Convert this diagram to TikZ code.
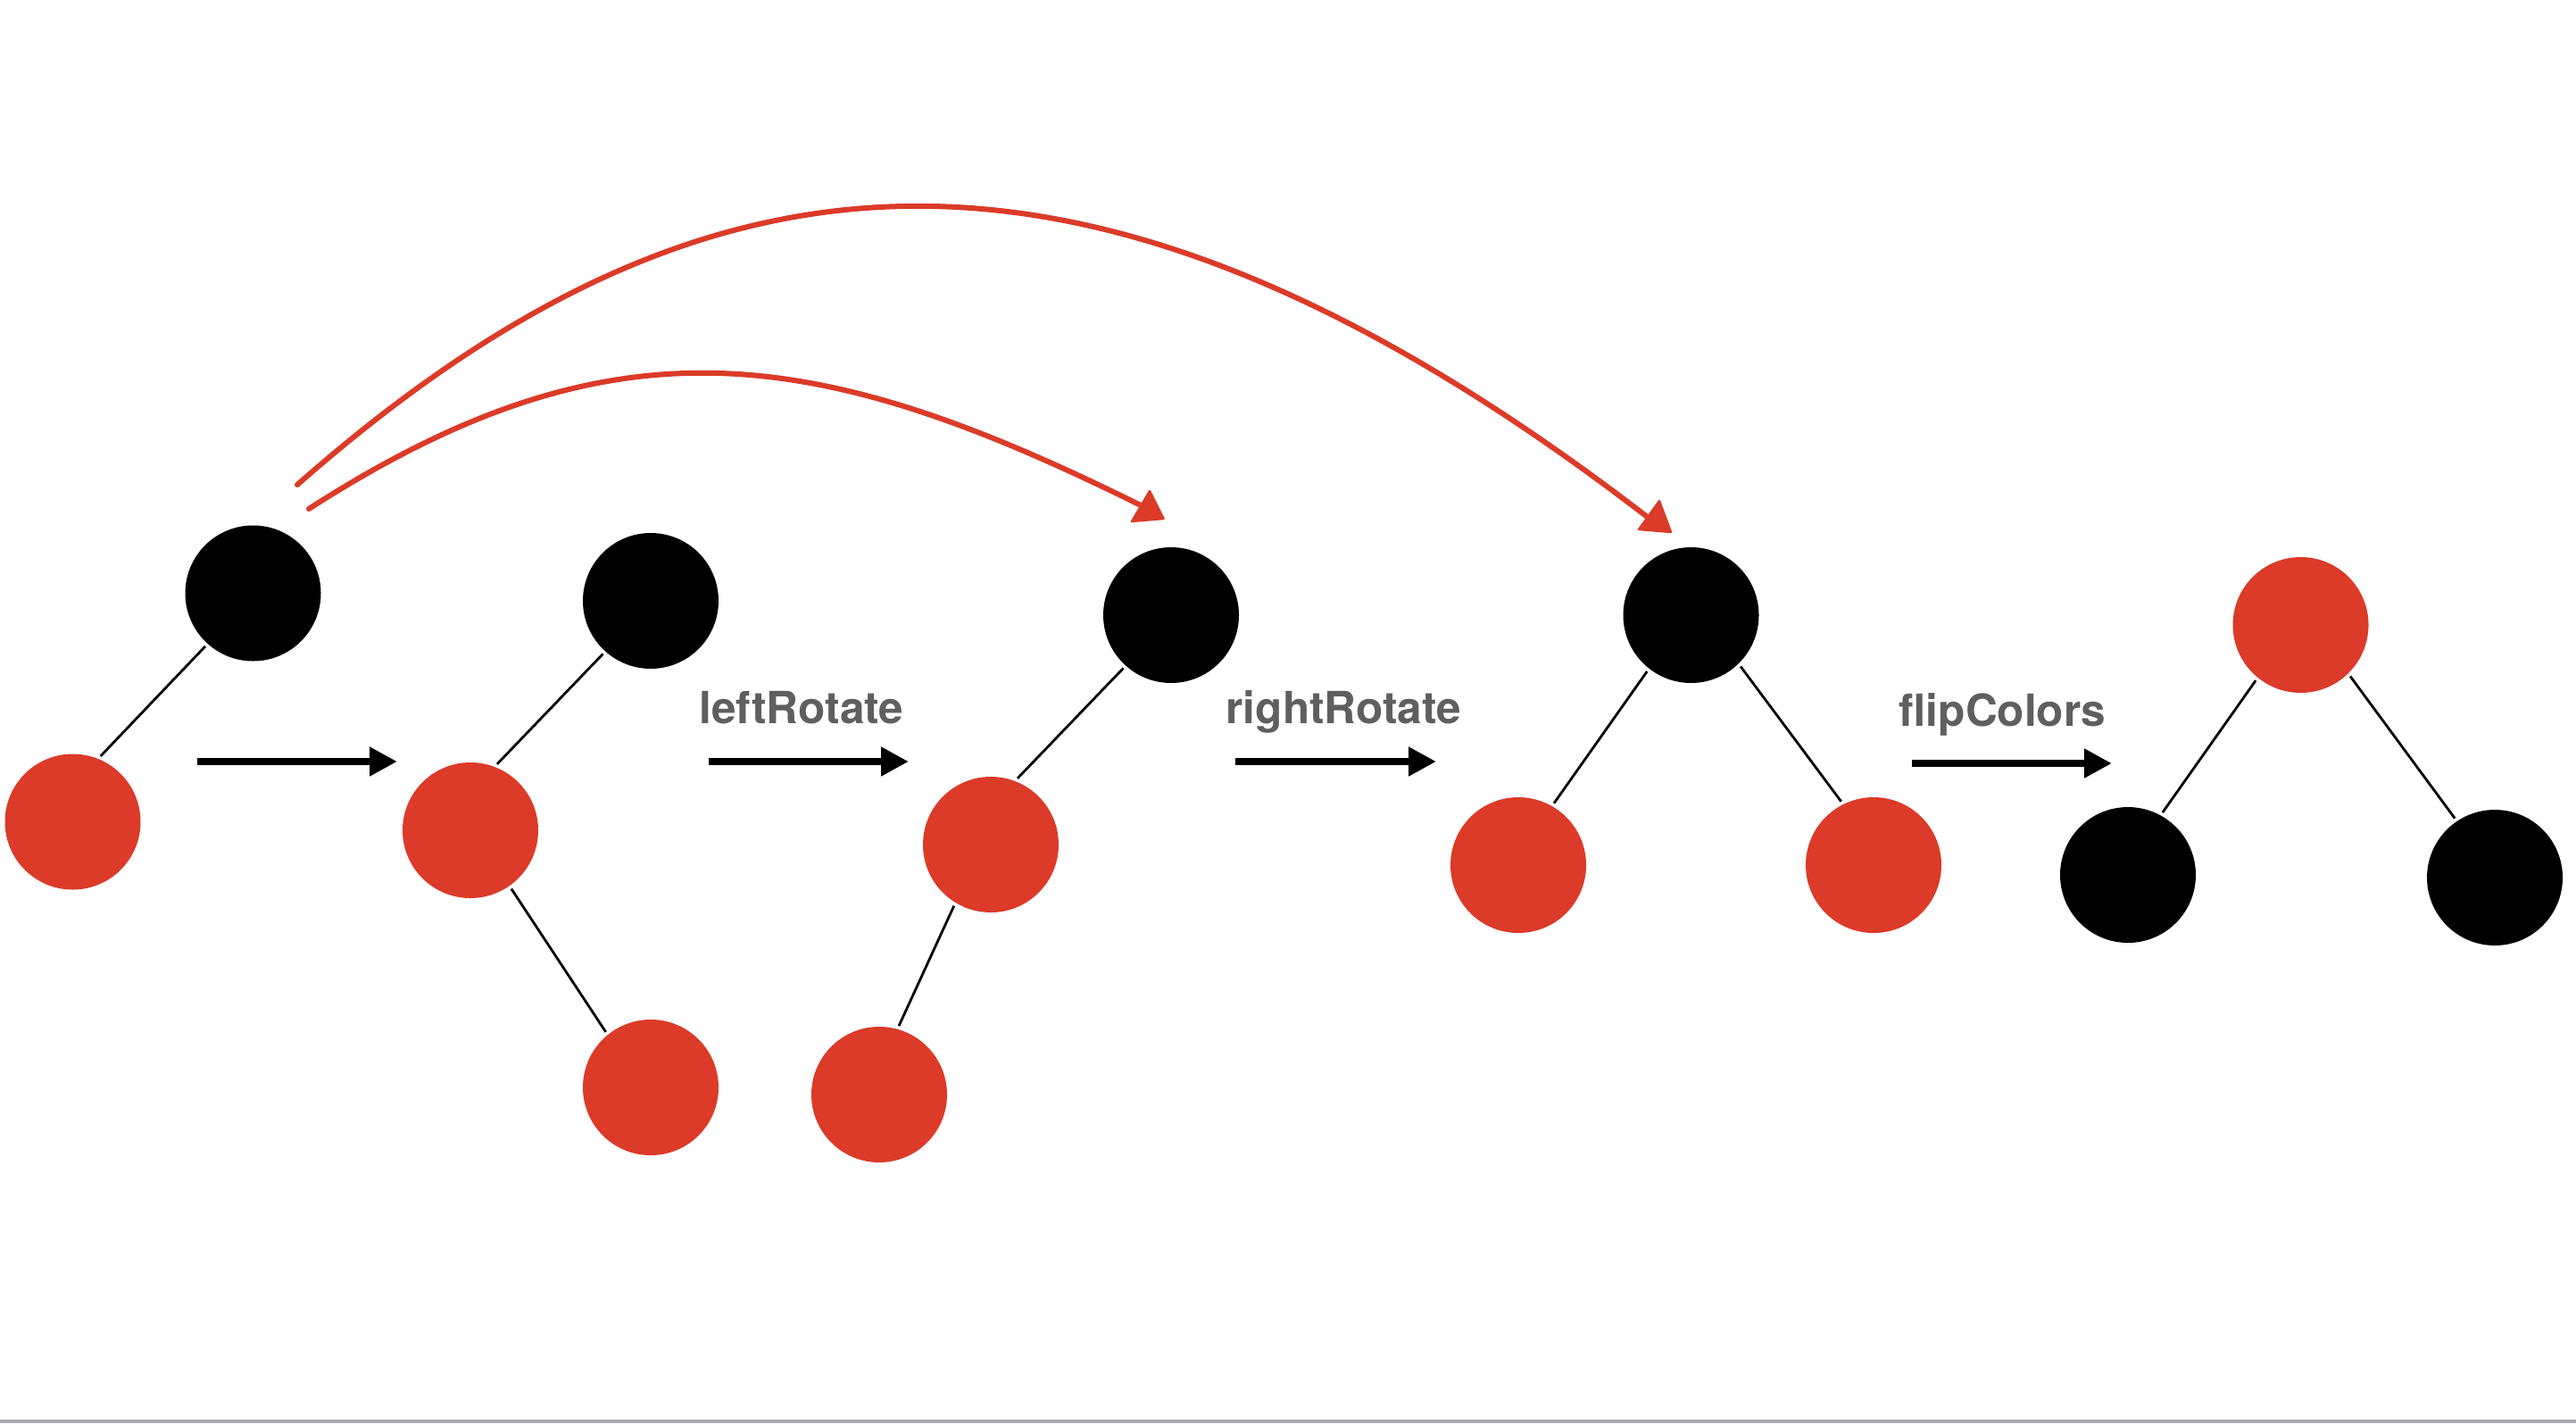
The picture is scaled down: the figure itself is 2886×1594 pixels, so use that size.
\documentclass[tikz,border=0pt]{standalone}
\usepackage{fontspec}
\setmainfont{TeX Gyre Heros}
\usetikzlibrary{arrows.meta}
\definecolor{rbred}{RGB}{219,59,40}
\definecolor{labgray}{RGB}{95,95,95}
\definecolor{bargray}{RGB}{166,169,174}
\tikzset{
  rbnode/.style={circle, minimum size=38pt, inner sep=0pt, outer sep=1pt},
  blacknode/.style={rbnode, fill=black},
  rednode/.style={rbnode, fill=rbred},
  edge/.style={draw=black, line width=0.7pt},
  steparrow/.style={draw=black, line width=2pt, -{Triangle[length=7.75pt,width=7.75pt]}},
  oplabel/.style={anchor=base, text=labgray, font=\bfseries\fontsize{12.4pt}{14pt}\selectfont, inner sep=0pt},
  sketch/.style={draw=rbred, line width=1.5pt, line cap=round},
  sketchtip/.style={fill=rbred, draw=rbred, line width=0.6pt, line join=round}
}
\begin{document}
\begin{tikzpicture}[x=0.25pt, y=-0.25pt]
\useasboundingbox (0,0) rectangle (2886,1594);
\fill[white] (0,0) rectangle (2886,1594);
\fill[bargray] (0,1590) rectangle (2886,1594);

% tree 1
\node[blacknode] (b1) at (283.5,664.5) {};
\node[rednode] (r1) at (81.5,920.5) {};
% tree 2
\node[blacknode] (b2) at (729,673) {};
\node[rednode] (r2) at (527,930) {};
\node[rednode] (r3) at (729,1218) {};
% tree 3
\node[blacknode] (b3) at (1312,689) {};
\node[rednode] (r4) at (1110,946) {};
\node[rednode] (r5) at (985,1226) {};
% tree 4
\node[blacknode] (b4) at (1894.5,689) {};
\node[rednode] (r6) at (1701,969) {};
\node[rednode] (r7) at (2099,969) {};
% tree 5
\node[rednode] (r8) at (2577.5,700) {};
\node[blacknode] (b5) at (2384,980) {};
\node[blacknode] (b6) at (2795,983) {};

% edges
\draw[edge] (b1.228) -- (r1.67);
\draw[edge] (b2.228) -- (r2.68);
\draw[edge] (r2.305) -- (r3.129);
\draw[edge] (b3.228) -- (r4.68);
\draw[edge] (r4.239) -- (r5.74);
\draw[edge] (b4.232) -- (r6.60);
\draw[edge] (b4.314) -- (r7.117);
\draw[edge] (r8.231) -- (b5.61);
\draw[edge] (r8.314) -- (b6.124);

% step arrows
\coordinate (a1s) at (221,853);  \coordinate (a1e) at (445,853);
\coordinate (a2s) at (794,853);  \coordinate (a2e) at (1018,853);
\coordinate (a3s) at (1384,853); \coordinate (a3e) at (1609,853);
\coordinate (a4s) at (2142,855); \coordinate (a4e) at (2366,855);
\draw[steparrow] (a1s) -- (a1e);
\draw[steparrow] (a2s) -- (a2e);
\draw[steparrow] (a3s) -- (a3e);
\draw[steparrow] (a4s) -- (a4e);

% labels
\node[oplabel] (l1) at (898,810) {leftRotate};
\node[oplabel] (l2) at (1505.5,810) {rightRotate};
\node[oplabel] (l3) at (2243.5,813) {flipColors};

% red curved arrows
\coordinate (c1s) at (333,543);
\coordinate (c1e) at (1852,584);
\coordinate (c2s) at (346,570);
\coordinate (c2e) at (1282,568);
\draw[sketch] (c1s) .. controls (783,147) and (1217,93) .. (c1e);
\draw[sketch] (c2s) .. controls (690,348.5) and (918,387) .. (c2e);
\filldraw[sketchtip] (1859,561) -- (1836,593) -- (1872,596) -- cycle;
\filldraw[sketchtip] (1288,550) -- (1268,584) -- (1303.6,581) -- cycle;
\end{tikzpicture}
\end{document}
